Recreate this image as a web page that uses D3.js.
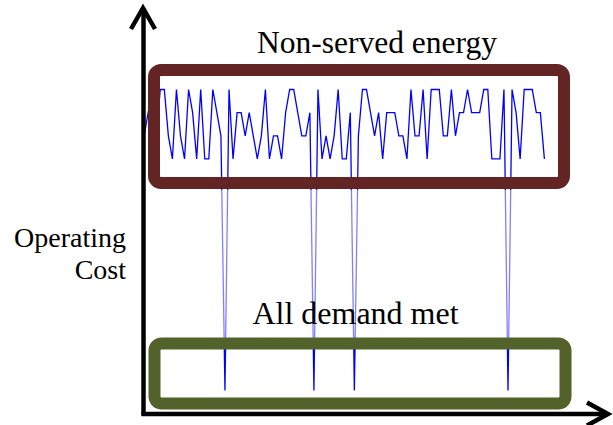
<!DOCTYPE html>
<html><head><meta charset="utf-8">
<script src="https://cdn.jsdelivr.net/npm/d3@7"></script>
<style>html,body{margin:0;padding:0;background:#fff;} svg{display:block;}</style>
</head><body>
<svg id="chart" width="613" height="425"></svg>
<script>
// ---- data ----
const periods = d3.range(100);
const operatingCost = [
  110,120,130,110,130,130,110,100,130,110,
  100,130,120,100,130,100,100,130,120,110,
  0,130,100,120,120,110,120,110,100,110,
  130,100,110,110,100,120,130,130,120,110,
  110,120,0,130,100,110,100,110,130,100,
  100,120,0,110,130,130,120,110,120,100,
  120,120,120,110,110,100,130,110,110,130,
  100,130,130,130,110,110,130,110,120,120,
  130,120,120,120,130,130,100,100,100,130,
  0,130,120,100,130,130,130,120,120,100
];
const regionLabels = ["Non-served energy", "All demand met"];
const yTitleLines = ["Operating", "Cost"];

// ---- drawing ----
const svg = d3.select("#chart");
const serif = "'Liberation Serif','Times New Roman',Times,serif";

const x = d3.scaleLinear().domain([0, 99]).range([144.1, 544.4]);
const y = d3.scaleLinear().domain([0, 130]).range([390.5, 89.5]);

// line
svg.append("path")
  .datum(operatingCost)
  .attr("fill", "none")
  .attr("stroke", "#0000ff")
  .attr("stroke-width", 1.3)
  .attr("stroke-linejoin", "miter")
  .attr("d", d3.line().x((d, i) => x(periods[i])).y(d => y(d)));

// translucent band between boxes
svg.append("rect")
  .attr("x", 180).attr("y", 190).attr("width", 350).attr("height", 149)
  .attr("fill", "#fff").attr("opacity", 0.5);

// region boxes
svg.append("rect")
  .attr("x", 154).attr("y", 70).attr("width", 410).attr("height", 113)
  .attr("rx", 7).attr("ry", 7)
  .attr("fill", "none").attr("stroke", "#632523").attr("stroke-width", 12);

svg.append("rect")
  .attr("x", 154.5).attr("y", 343.5).attr("width", 411).attr("height", 60)
  .attr("rx", 7).attr("ry", 7)
  .attr("fill", "none").attr("stroke", "#52622a").attr("stroke-width", 12);

// axes (no ticks)
const yAxisScale = d3.scaleLinear().domain([0, 1]).range([415, 9]);
const xAxisScale = d3.scaleLinear().domain([0, 1]).range([141, 607]);
const gy = svg.append("g").attr("transform", "translate(143,0)")
  .call(d3.axisLeft(yAxisScale).tickValues([]).tickSizeOuter(0));
gy.select(".domain").attr("stroke", "#000").attr("stroke-width", 4.5);
const gx = svg.append("g").attr("transform", "translate(0,413.5)")
  .call(d3.axisBottom(xAxisScale).tickValues([]).tickSizeOuter(0));
gx.select(".domain").attr("stroke", "#000").attr("stroke-width", 4.5);

// arrowheads
svg.append("path")
  .attr("d", "M131,29 L143,8 L155,29")
  .attr("fill", "none").attr("stroke", "#000").attr("stroke-width", 4.5);
svg.append("path")
  .attr("d", "M587,402.5 L608,414 L587,425.5")
  .attr("fill", "none").attr("stroke", "#000").attr("stroke-width", 4.5);

// labels
svg.append("text")
  .attr("x", 377).attr("y", 52.5)
  .attr("text-anchor", "middle")
  .style("font-family", serif).style("font-size", "31.5px")
  .attr("fill", "#000")
  .text(regionLabels[0]);

svg.append("text")
  .attr("x", 355.5).attr("y", 324)
  .attr("text-anchor", "middle")
  .style("font-family", serif).style("font-size", "32px")
  .attr("fill", "#000")
  .text(regionLabels[1]);

svg.append("text")
  .attr("text-anchor", "end")
  .style("font-family", serif).style("font-size", "28px")
  .attr("fill", "#000")
  .selectAll("tspan")
  .data(yTitleLines)
  .join("tspan")
  .attr("x", 126)
  .attr("y", (d, i) => 247 + i * 32)
  .text(d => d);
</script>
</body></html>
